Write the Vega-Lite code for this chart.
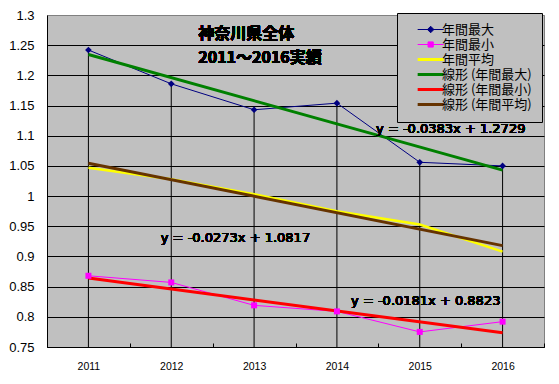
{
  "$schema": "https://vega.github.io/schema/vega-lite/v6.json",
  "width": 497,
  "height": 332,
  "autosize": "none",
  "padding": {"left": 47, "top": 15, "right": 15, "bottom": 37},
  "background": "white",
  "config": {
    "view": {"fill": "#C0C0C0", "stroke": "#808080", "strokeWidth": 1},
    "font": "Liberation Sans"
  },
  "data": {
    "values": [
      {"year": "2011", "series": "年間最大", "value": 1.242},
      {"year": "2012", "series": "年間最大", "value": 1.186},
      {"year": "2013", "series": "年間最大", "value": 1.143},
      {"year": "2014", "series": "年間最大", "value": 1.154},
      {"year": "2015", "series": "年間最大", "value": 1.056},
      {"year": "2016", "series": "年間最大", "value": 1.05},
      {"year": "2011", "series": "年間最小", "value": 0.868},
      {"year": "2012", "series": "年間最小", "value": 0.857},
      {"year": "2013", "series": "年間最小", "value": 0.819},
      {"year": "2014", "series": "年間最小", "value": 0.809},
      {"year": "2015", "series": "年間最小", "value": 0.775},
      {"year": "2016", "series": "年間最小", "value": 0.792},
      {"year": "2011", "series": "年間平均", "value": 1.047},
      {"year": "2012", "series": "年間平均", "value": 1.028},
      {"year": "2013", "series": "年間平均", "value": 1.003},
      {"year": "2014", "series": "年間平均", "value": 0.975},
      {"year": "2015", "series": "年間平均", "value": 0.953},
      {"year": "2016", "series": "年間平均", "value": 0.908},
      {"year": "2011", "series": "線形 (年間最大)", "value": 1.2346},
      {"year": "2016", "series": "線形 (年間最大)", "value": 1.0431},
      {"year": "2011", "series": "線形 (年間最小)", "value": 0.8642},
      {"year": "2016", "series": "線形 (年間最小)", "value": 0.7737},
      {"year": "2011", "series": "線形 (年間平均)", "value": 1.0544},
      {"year": "2016", "series": "線形 (年間平均)", "value": 0.9179}
    ]
  },
  "encoding": {
    "x": {
      "field": "year",
      "type": "ordinal",
      "scale": {"type": "band", "paddingInner": 0, "paddingOuter": 0, "domain": ["2011", "2012", "2013", "2014", "2015", "2016"]},
      "axis": {
        "title": null,
        "labelAngle": 0,
        "labelFont": "Liberation Sans",
        "labelFontSize": 10.5,
        "labelColor": "black",
        "domainColor": "black",
        "tickColor": "black",
        "tickBand": "extent",
        "tickSize": -4,
        "labelPadding": 18,
        "grid": false
      }
    },
    "y": {
      "field": "value",
      "type": "quantitative",
      "scale": {"domain": [0.75, 1.3], "nice": false, "zero": false},
      "axis": {
        "title": null,
        "values": [0.75, 0.8, 0.85, 0.9, 0.95, 1, 1.05, 1.1, 1.15, 1.2, 1.25, 1.3],
        "format": ".2~f",
        "labelFont": "Liberation Sans",
        "labelFontSize": 13,
        "labelColor": "black",
        "labelPadding": 13,
        "ticks": false,
        "domainColor": "black",
        "grid": true,
        "gridColor": {"condition": {"test": "datum.value >= 1.29", "value": "#808080"}, "value": "black"},
        "gridOpacity": 1
      }
    }
  },
  "layer": [
    {
      "transform": [{"filter": "datum.series === '年間最大'"}],
      "mark": {"type": "rule", "color": "black", "strokeWidth": 1},
      "encoding": {"y2": {"datum": 0.75}}
    },
    {
      "transform": [{"filter": "datum.series === '年間最大' || datum.series === '年間最小'"}],
      "mark": {"type": "line", "strokeWidth": 1},
      "encoding": {
        "color": {
          "field": "series",
          "type": "nominal",
          "scale": {
            "domain": ["年間最大", "年間最小", "年間平均", "線形 (年間最大)", "線形 (年間最小)", "線形 (年間平均)"],
            "range": ["#000080", "#FF00FF", "#FFFF00", "#008000", "#FF0000", "#663300"]
          },
          "legend": {
            "title": null,
            "orient": "none",
            "legendX": 350,
            "legendY": -2,
            "fillColor": "#C0C0C0",
            "strokeColor": "black",
            "padding": 10,
            "cornerRadius": 0,
            "rowPadding": 1,
            "symbolSize": 676,
            "symbolType": "M0.32,0H2.32",
            "symbolStrokeWidth": 2,
            "labelFont": "Noto Sans CJK JP",
            "labelFontSize": 13,
            "labelColor": "black",
            "labelOffset": 22,
            "labelLimit": 200,
            "encode": {
              "legend": {
                "update": {
                  "fill": {"value": "#C0C0C0"},
                  "stroke": {"value": "black"},
                  "strokeWidth": {"value": 1}
                }
              },
              "symbols": {
                "update": {
                  "shape": {"signal": "datum.value === '年間最大' ? 'M0.32,0H2.32M1.32,-0.25L1.57,0L1.32,0.25L1.07,0Z' : datum.value === '年間最小' ? 'M0.32,0H2.32M1.12,-0.2H1.52V0.2H1.12Z' : 'M0.32,0H2.32'"},
                  "fill": {"scale": "color", "field": "value"},
                  "stroke": {"scale": "color", "field": "value"},
                  "strokeWidth": {"signal": "(datum.value === '年間最大' || datum.value === '年間最小') ? 1 : 3"}
                }
              }
            }
          }
        }
      }
    },
    {
      "transform": [{"filter": "datum.series === '年間平均'"}],
      "mark": {"type": "line", "strokeWidth": 2.5},
      "encoding": {"color": {"field": "series", "type": "nominal"}}
    },
    {
      "transform": [{"filter": "indexof(datum.series, '線形') === 0"}],
      "mark": {"type": "line", "strokeWidth": 3},
      "encoding": {"color": {"field": "series", "type": "nominal"}}
    },
    {
      "transform": [{"filter": "datum.series === '年間最大'"}],
      "mark": {"type": "point", "shape": "diamond", "filled": true, "size": 45, "opacity": 1},
      "encoding": {"color": {"field": "series", "type": "nominal"}}
    },
    {
      "transform": [{"filter": "datum.series === '年間最小'"}],
      "mark": {"type": "point", "shape": "square", "filled": true, "size": 36, "opacity": 1},
      "encoding": {"color": {"field": "series", "type": "nominal"}}
    },
    {
      "mark": {"type": "text", "text": "神奈川県全体", "font": "Noto Sans CJK JP", "fontSize": 16, "fontWeight": "bold", "align": "left", "baseline": "middle", "dx": 27, "color": "black"},
      "encoding": {"x": {"datum": "2012"}, "y": {"datum": 1.2685}}
    },
    {
      "mark": {"type": "text", "text": "2011～2016実績", "font": "Noto Sans CJK JP", "fontSize": 16, "fontWeight": "bold", "align": "left", "baseline": "middle", "dx": 27, "color": "black"},
      "encoding": {"x": {"datum": "2012"}, "y": {"datum": 1.2283}}
    },
    {
      "mark": {"type": "text", "text": "y = -0.0383x + 1.2729", "font": "DejaVu Sans", "fontSize": 13, "fontWeight": "normal", "align": "center", "baseline": "middle", "dx": 31, "color": "black"},
      "encoding": {"x": {"datum": "2015"}, "y": {"datum": 1.1113}}
    },
    {
      "mark": {"type": "text", "text": "y = -0.0273x + 1.0817", "font": "DejaVu Sans", "fontSize": 13, "fontWeight": "normal", "align": "center", "baseline": "middle", "dx": -18.6, "color": "black"},
      "encoding": {"x": {"datum": "2013"}, "y": {"datum": 0.9308}}
    },
    {
      "mark": {"type": "text", "text": "y = -0.0181x + 0.8823", "font": "DejaVu Sans", "fontSize": 13, "fontWeight": "normal", "align": "center", "baseline": "middle", "dx": 6, "color": "black"},
      "encoding": {"x": {"datum": "2015"}, "y": {"datum": 0.827}}
    }
  ]
}
